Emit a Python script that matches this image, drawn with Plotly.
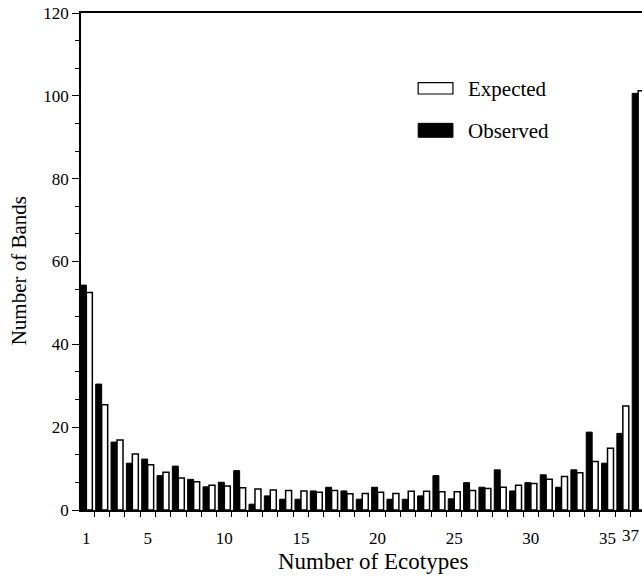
import plotly.graph_objects as go

ecotypes = list(range(1, 38))
observed = [54.3, 30.4, 16.4, 11.3, 12.3, 8.3, 10.6, 7.4, 5.6, 6.7,
            9.5, 1.4, 3.4, 2.6, 2.6, 4.6, 5.5, 4.6, 2.6, 5.5,
            2.6, 2.6, 3.4, 8.3, 2.7, 6.6, 5.5, 9.7, 4.6, 6.6,
            8.5, 5.5, 9.7, 18.8, 11.3, 18.5, 100.6]
expected = [52.5, 25.4, 16.9, 13.5, 10.9, 9.1, 7.7, 6.8, 6.0, 5.8,
            5.4, 5.1, 4.8, 4.7, 4.6, 4.3, 4.7, 3.9, 4.0, 4.3,
            4.0, 4.5, 4.5, 4.4, 4.4, 4.7, 5.2, 5.5, 6.0, 6.4,
            7.4, 8.1, 9.0, 11.7, 14.9, 25.1, 101.2]
x_tick_vals = [1, 5, 10, 15, 20, 25, 30, 35]
last_tick_label = "37"
y_tick_vals = [0, 20, 40, 60, 80, 100, 120]

FONT = "Liberation Serif"

fig = go.Figure()
fig.add_trace(go.Bar(x=ecotypes, y=observed, name="Observed",
                     marker=dict(color="black", line=dict(color="black", width=1))))
fig.add_trace(go.Bar(x=ecotypes, y=expected, name="Expected",
                     marker=dict(color="white", line=dict(color="black", width=1.5))))

# legend drawn as boxes + text
fig.add_shape(type="rect", xref="paper", yref="paper", x0=0.601, x1=0.663, y0=0.837, y1=0.860,
              line=dict(color="black", width=1.2), fillcolor="white")
fig.add_shape(type="rect", xref="paper", yref="paper", x0=0.601, x1=0.663, y0=0.750, y1=0.778,
              line=dict(color="black", width=1), fillcolor="black")
fig.add_annotation(xref="paper", yref="paper", x=0.686, y=0.847, text="Expected", showarrow=False,
                   xanchor="left", yanchor="middle", font=dict(family=FONT, size=21, color="black"))
fig.add_annotation(xref="paper", yref="paper", x=0.686, y=0.763, text="Observed", showarrow=False,
                   xanchor="left", yanchor="middle", font=dict(family=FONT, size=21, color="black"))

# last x tick label, kept inside the page edge
fig.add_annotation(xref="paper", yref="paper", x=1.0, y=-0.052, text=last_tick_label,
                   showarrow=False, xanchor="right", yanchor="middle",
                   font=dict(family=FONT, size=17, color="black"))

# axis titles
fig.add_annotation(xref="paper", yref="paper", x=0.5205, y=-0.104, text="Number of Ecotypes",
                   showarrow=False, xanchor="center", yanchor="middle",
                   font=dict(family=FONT, size=23, color="black"))
fig.add_annotation(xref="paper", yref="paper", x=-0.109, y=0.482, text="Number of Bands",
                   showarrow=False, xanchor="center", yanchor="middle", textangle=-90,
                   font=dict(family=FONT, size=21, color="black"))

fig.update_layout(
    width=642, height=580,
    margin=dict(l=81, r=0, t=13, b=70),
    plot_bgcolor="white", paper_bgcolor="white",
    barmode="group", bargap=0.22, bargroupgap=0,
    showlegend=False,
    font=dict(family=FONT, size=17, color="black"),
    xaxis=dict(range=[0.65, 37.25], tickmode="array", tickvals=x_tick_vals,
               ticks="", showgrid=False, zeroline=False, automargin=False,
               showline=True, linecolor="black", linewidth=1.5, mirror=True,
               tickfont=dict(family=FONT, size=17), ticklabelstandoff=12,
               minor=dict(tick0=0.5, dtick=1, ticks="outside", ticklen=5, tickcolor="black", tickwidth=1.2)),
    yaxis=dict(range=[0, 120], tickmode="array", tickvals=y_tick_vals,
               ticks="outside", ticklen=7, tickcolor="black", tickwidth=1.2,
               showgrid=False, zeroline=False, automargin=False,
               showline=True, linecolor="black", linewidth=1.5,
               tickfont=dict(family=FONT, size=17),
               minor=dict(tick0=0, dtick=20/3, ticks="outside", ticklen=4, tickcolor="black", tickwidth=1)),
)

fig.write_html("out.html", config={"displayModeBar": False},
               post_script="document.body.style.margin='0';document.body.style.overflow='hidden';")
